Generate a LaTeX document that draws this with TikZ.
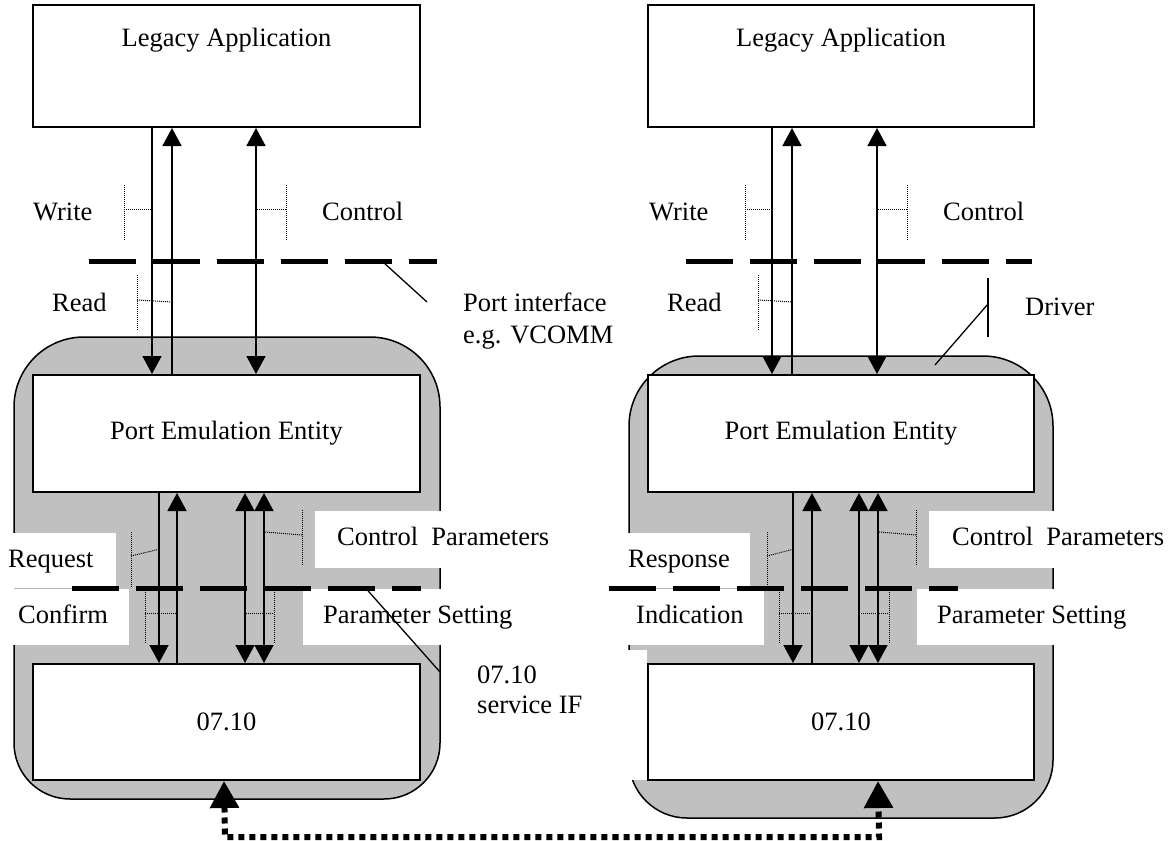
\documentclass[tikz,border=0pt]{standalone}
\usepackage{fontspec}
\setmainfont{Liberation Serif}
\usetikzlibrary{arrows.meta}
\definecolor{shade}{HTML}{C0C0C0}
\definecolor{thinline}{HTML}{B4B4B4}
\begin{document}
\begin{tikzpicture}[x=1pt,y=-1pt,
 box/.style={draw,line width=2pt,fill=white,inner sep=0pt},
 lbl/.style={inner sep=0pt,anchor=base west,font=\fontsize{26.5}{30}\selectfont},
 ctr/.style={inner sep=0pt,font=\fontsize{26.5}{30}\selectfont},
 arr/.style={line width=1.6pt,-{Triangle[width=19pt,length=18pt]}},
 arrboth/.style={line width=1.6pt,{Triangle[width=19pt,length=18pt]}-{Triangle[width=19pt,length=18pt]}},
 iface/.style={line width=5pt,dash pattern=on 47pt off 17pt},
 brk/.style={line width=1pt,dash pattern=on 1pt off 1pt},
 leader/.style={line width=1.3pt},
 blank/.style={fill=white},
 region/.style={fill=shade,draw,line width=1.5pt},
 dotconn/.style={line width=6pt,dash pattern=on 6pt off 5pt,{Triangle[width=28pt,length=27pt]}-{Triangle[width=28pt,length=27pt]}}
]
\useasboundingbox (0,0) rectangle (1169,840);

% grey regions
\path[region] (84,337) -- (370,337) .. controls (408.7,337) and (440,368.3) .. (440,407) -- (440,743) .. controls (440,774.1) and (414.9,799) .. (384,799) -- (70,799) .. controls (39.1,799) and (14,774.1) .. (14,743) -- (14,407) .. controls (14,368.3) and (45.3,337) .. (84,337) -- cycle;
\path[region] (699,356) -- (983,356) .. controls (1021.7,356) and (1053,387.3) .. (1053,426) -- (1053,760) .. controls (1053,792) and (1027,818) .. (995,818) -- (687,818) .. controls (655,818) and (629,792) .. (629,760) -- (629,426) .. controls (629,387.3) and (660.3,356) .. (699,356) -- cycle;

% white label backgrounds
\fill[blank] (0,533) rectangle (116,588.5);
\fill[blank] (0,588.5) rectangle (129,645);
\fill[blank] (315,511) rectangle (600,568);
\fill[blank] (303,588.5) rectangle (600,645);
\fill[blank] (600,533) rectangle (750,588.5);
\fill[blank] (600,588.5) rectangle (764,645);
\fill[blank] (929,511) rectangle (1169,568);
\fill[blank] (917,588.5) rectangle (1169,645);
\fill[blank] (600,650) rectangle (647,780);
\draw[thinline,line width=0.6pt] (14,588.5) -- (72,588.5);
\draw[thinline,line width=0.6pt] (609,588.5) -- (750,588.5);

% boxes
\node[box,minimum width=387,minimum height=122] (la) at (226.5,66) {};
\node[box,minimum width=387,minimum height=117] (pe) at (226.5,433.5) {};
\node[box,minimum width=387,minimum height=116] (lo) at (226.5,722) {};
\node[box,minimum width=386,minimum height=122] (ra) at (841,66) {};
\node[box,minimum width=386,minimum height=117] (rp) at (841,433.5) {};
\node[box,minimum width=386,minimum height=116] (rl) at (841,722) {};

\node[ctr,anchor=base] (lat) at (226.5,47) {Legacy Application};
\node[ctr,anchor=base] (rat) at (841,47) {Legacy Application};
\node[ctr] at (pe.center) {Port Emulation Entity};
\node[ctr] at (rp.center) {Port Emulation Entity};
\node[ctr] at (lo.center) {07.10};
\node[ctr] at (rl.center) {07.10};

% upper arrows, left
\draw[arr] ([xshift=120pt]la.south west) -- ([xshift=120pt]pe.north west);
\draw[arr] ([xshift=140pt]pe.north west) -- ([xshift=140pt]la.south west);
\draw[arrboth] ([xshift=224pt]la.south west) -- ([xshift=224pt]pe.north west);
% upper arrows, right
\draw[arr] ([xshift=125pt]ra.south west) -- ([xshift=125pt]rp.north west);
\draw[arr] ([xshift=145pt]rp.north west) -- ([xshift=145pt]ra.south west);
\draw[arrboth] ([xshift=230pt]ra.south west) -- ([xshift=230pt]rp.north west);
% lower arrows, left
\draw[arr] ([xshift=127pt]pe.south west) -- ([xshift=127pt]lo.north west);
\draw[arr] ([xshift=145pt]lo.north west) -- ([xshift=145pt]pe.south west);
\draw[arrboth] ([xshift=213pt]pe.south west) -- ([xshift=213pt]lo.north west);
\draw[arrboth] ([xshift=232pt]pe.south west) -- ([xshift=232pt]lo.north west);
% lower arrows, right
\draw[arr] ([xshift=146pt]rp.south west) -- ([xshift=146pt]rl.north west);
\draw[arr] ([xshift=165pt]rl.north west) -- ([xshift=165pt]rp.south west);
\draw[arrboth] ([xshift=212pt]rp.south west) -- ([xshift=212pt]rl.north west);
\draw[arrboth] ([xshift=231pt]rp.south west) -- ([xshift=231pt]rl.north west);

% interface lines
\coordinate (i1a) at (89,261); \coordinate (i1b) at (437,261);
\coordinate (i2a) at (686,261); \coordinate (i2b) at (1032,261);
\coordinate (i3a) at (72,588.5); \coordinate (i3b) at (421,588.5);
\coordinate (i4a) at (609,588.5); \coordinate (i4b) at (958,588.5);
\draw[iface] (i1a) -- (i1b);
\draw[iface] (i2a) -- (i2b);
\draw[iface] (i3a) -- (i3b);
\draw[iface] (i4a) -- (i4b);

% dotted brackets, upper left
\draw[brk] (124,185) -- (124,240); \draw[brk] (124,209) -- (153,209);
\draw[brk] (286,185) -- (286,240); \draw[brk] (257,209) -- (286,209);
\draw[brk] (137,275) -- (137,330); \draw[brk] (137,300) -- (173,302);
% upper right
\draw[brk] (745,185) -- (745,240); \draw[brk] (745,209) -- (773,209);
\draw[brk] (907,185) -- (907,240); \draw[brk] (878,209) -- (907,209);
\draw[brk] (758,275) -- (758,330); \draw[brk] (758,300) -- (793,302);
% lower left
\draw[brk] (131,532) -- (131,587); \draw[brk] (131,556) -- (160,549);
\draw[brk] (302,510) -- (302,565); \draw[brk] (265,532) -- (302,535);
\draw[brk] (145,592) -- (145,643); \draw[brk] (145,613) -- (178,613);
\draw[brk] (274,592) -- (274,643); \draw[brk] (244,613) -- (274,613);
% lower right
\draw[brk] (767,532) -- (767,587); \draw[brk] (767,556) -- (794,549);
\draw[brk] (916,510) -- (916,565); \draw[brk] (879,532) -- (916,535);
\draw[brk] (779,592) -- (779,643); \draw[brk] (779,613) -- (813,613);
\draw[brk] (889,592) -- (889,643); \draw[brk] (859,613) -- (889,613);

% labels
\node[lbl] (wl) at (33,220) {Write};
\node[lbl] (cl) at (322,220) {Control};
\node[lbl] (rdl) at (52,311) {Read};
\node[lbl] (pi1) at (463,311) {Port interface};
\node[lbl] (pi2) at (463,343) {e.g. VCOMM};
\node[lbl] (wr) at (649,220) {Write};
\node[lbl] (cr) at (943,220) {Control};
\node[lbl] (rdr) at (667,311) {Read};
\node[lbl] (drv) at (1025,315) {Driver};
\node[lbl] (req) at (8,567) {Request};
\node[lbl] (cnf) at (18,623) {Confirm};
\node[lbl] (cpl) at (337,545) {Control~~Parameters};
\node[lbl] (psl) at (323,623) {Parameter Setting};
\node[lbl] (sv1) at (477,683) {07.10};
\node[lbl] (sv2) at (477,713) {service IF};
\node[lbl] (rsp) at (628,567) {Response};
\node[lbl] (ind) at (636,623) {Indication};
\node[lbl] (cpr) at (952,545) {Control~~Parameters};
\node[lbl] (psr) at (937,623) {Parameter Setting};

% leader lines
\coordinate (p1) at (383,262); \coordinate (p2) at (427,302);
\draw[leader] (p1) -- (p2);
\coordinate (d1) at (935,365); \coordinate (d2) at (988,304);
\coordinate (d3) at (988,278); \coordinate (d4) at (988,337);
\draw[leader] (d1) -- (d2); \draw[leader] (d3) -- (d4);
\coordinate (s1) at (366,588.5); \coordinate (s2) at (440,672);
\draw[leader] (s1) -- (s2);

% bottom connector
\coordinate (bl) at (225,837); \coordinate (br) at (879,837);
\draw[dotconn] ([xshift=192pt]lo.south west) -- (bl) -- (br) -- ([xshift=231pt]rl.south west);
\end{tikzpicture}
\end{document}
